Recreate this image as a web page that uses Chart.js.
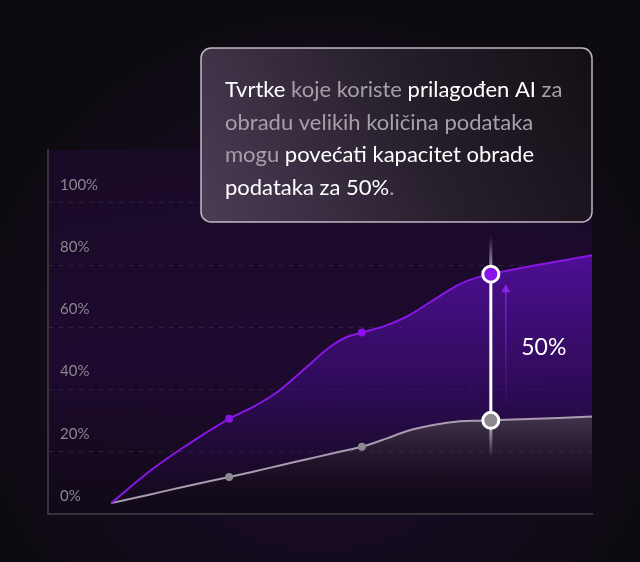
<!DOCTYPE html>
<html>
<head>
<meta charset="utf-8">
<script src="https://cdn.jsdelivr.net/npm/chart.js@4.4.1/dist/chart.umd.min.js"></script>
<style>
html, body { margin: 0; padding: 0; background: #0c0a0e; }
#wrap { width: 640px; height: 562px; }
</style>
</head>
<body>
<div id="wrap"><canvas id="growthChart"></canvas></div>
<script>
// positions along the x axis (0-100) and the two series in %
const xs = [11.6, 18.8, 24.8, 33.3, 37.7, 42.6, 47.6, 51.8, 54.9, 57.7, 62.3, 65.9, 70.8, 75.7, 79.4, 81.4, 100];
const customAI = [3.5, 13.9, 21.3, 30.6, 34.4, 39.8, 47.3, 53.7, 56.9, 58.3, 60.7, 63.4, 68.7, 73.9, 76.3, 77.1, 83.2];
const standard = [3.5, 6.3, 8.7, 11.9, 13.6, 15.6, 17.6, 19.3, 20.5, 21.6, 24.3, 26.6, 28.6, 29.8, 30.0, 30.1, 31.3];
const yTicks = [0, 20, 40, 60, 80, 100];
const smallMarks = [3, 9];
const markIdx = 15;
const gainLabel = '50%';
const noteLines = [
    [['Tvrtke', 1], [' koje koriste ', 0], ['prilagođen AI', 1], [' za', 0]],
    [['obradu velikih količina podataka', 0]],
    [['mogu', 0], [' povećati kapacitet obrade', 1]],
    [['podataka za 50%', 1], ['.', 0]]
];

const radii = (small, big) => xs.map((_, i) => i === markIdx ? big : (smallMarks.includes(i) ? small : 0));

const bgPlugin = {
    id: 'bg',
    beforeDraw(chart) {
        const {ctx, chartArea: a, width, height} = chart;
        ctx.save();
        ctx.fillStyle = '#0c0a0e';
        ctx.fillRect(0, 0, width, height);
        const glow = ctx.createRadialGradient(320, 360, 20, 320, 360, 380);
        glow.addColorStop(0, 'rgba(45,14,75,0.55)');
        glow.addColorStop(1, 'rgba(45,14,75,0)');
        ctx.fillStyle = glow;
        ctx.fillRect(0, 0, width, height);
        const g = ctx.createLinearGradient(0, a.top, 0, a.bottom);
        g.addColorStop(0, 'rgba(26,10,40,0.9)');
        g.addColorStop(0.6, 'rgba(30,10,48,0.95)');
        g.addColorStop(1, 'rgba(16,9,22,1)');
        ctx.fillStyle = g;
        ctx.fillRect(a.left, a.top, a.right - a.left, a.bottom - a.top);
        ctx.restore();
    }
};

const markerPlugin = {
    id: 'marker',
    beforeDatasetsDraw(chart) {
        const {ctx, scales: {x, y}} = chart;
        const px = x.getPixelForValue(xs[markIdx]);
        const top = y.getPixelForValue(customAI[markIdx]);
        const bot = y.getPixelForValue(standard[markIdx]);
        ctx.save();
        ctx.lineWidth = 3;
        let g = ctx.createLinearGradient(0, top - 38, 0, top);
        g.addColorStop(0, 'rgba(255,255,255,0)');
        g.addColorStop(1, 'rgba(255,255,255,0.7)');
        ctx.strokeStyle = g;
        ctx.beginPath(); ctx.moveTo(px, top - 38); ctx.lineTo(px, top); ctx.stroke();
        g = ctx.createLinearGradient(0, bot, 0, bot + 36);
        g.addColorStop(0, 'rgba(255,255,255,0.7)');
        g.addColorStop(1, 'rgba(255,255,255,0)');
        ctx.strokeStyle = g;
        ctx.beginPath(); ctx.moveTo(px, bot); ctx.lineTo(px, bot + 36); ctx.stroke();
        ctx.strokeStyle = '#ffffff';
        ctx.beginPath(); ctx.moveTo(px, top); ctx.lineTo(px, bot); ctx.stroke();

        // arrow
        const ax = px + 15, ay1 = bot - 17, ay2 = top + 10;
        g = ctx.createLinearGradient(0, ay1, 0, ay2);
        g.addColorStop(0, 'rgba(130,30,220,0.1)');
        g.addColorStop(1, 'rgba(140,35,235,0.95)');
        ctx.strokeStyle = g;
        ctx.lineWidth = 1.5;
        ctx.beginPath(); ctx.moveTo(ax, ay1); ctx.lineTo(ax, ay2 + 6); ctx.stroke();
        ctx.fillStyle = 'rgba(140,35,235,0.95)';
        ctx.beginPath(); ctx.moveTo(ax, ay2); ctx.lineTo(ax - 4.5, ay2 + 8); ctx.lineTo(ax + 4.5, ay2 + 8); ctx.closePath(); ctx.fill();

        ctx.fillStyle = '#ffffff';
        ctx.font = '23px Lato';
        ctx.textAlign = 'center';
        ctx.textBaseline = 'middle';
        ctx.fillText(gainLabel, px + 53, (top + bot) / 2);
        ctx.restore();
    },
    afterDraw(chart) {
        const {ctx} = chart;
        const bx = 201, by = 48, bw = 391, bh = 174;
        ctx.save();
        const g = ctx.createLinearGradient(bx, by + bh, bx + bw, by);
        g.addColorStop(0, 'rgba(80,64,90,0.93)');
        g.addColorStop(0.55, 'rgba(40,32,44,0.93)');
        g.addColorStop(1, 'rgba(20,15,22,0.93)');
        ctx.fillStyle = g;
        ctx.beginPath();
        ctx.roundRect(bx, by, bw, bh, 10);
        ctx.fill();
        ctx.lineWidth = 1.5;
        ctx.strokeStyle = 'rgba(220,212,222,0.85)';
        ctx.stroke();
        ctx.font = '22px Lato';
        ctx.textBaseline = 'middle';
        ctx.textAlign = 'left';
        noteLines.forEach((runs, i) => {
            let tx = 225;
            const ty = 90 + i * 32.5;
            runs.forEach(([t, bright]) => {
                ctx.fillStyle = bright ? '#ffffff' : '#a79fa9';
                ctx.fillText(t, tx, ty);
                tx += ctx.measureText(t).width;
            });
        });
        ctx.restore();
    }
};

new Chart(document.getElementById('growthChart'), {
    type: 'line',
    data: {
        datasets: [{
            label: 'Prilagođen AI',
            data: xs.map((x, i) => ({x: x, y: customAI[i]})),
            borderColor: '#8a16e6',
            borderWidth: 2,
            fill: 1,
            backgroundColor: (c) => {
                const a = c.chart.chartArea;
                if (!a) return 'rgba(80,15,150,0.4)';
                const g = c.chart.ctx.createLinearGradient(0, a.top + 100, 0, a.bottom);
                g.addColorStop(0, 'rgba(92,16,178,0.82)');
                g.addColorStop(0.55, 'rgba(62,12,125,0.5)');
                g.addColorStop(1, 'rgba(40,10,70,0.05)');
                return g;
            },
            pointRadius: radii(4, 8),
            pointBackgroundColor: '#8b12e8',
            pointBorderColor: '#ffffff',
            pointBorderWidth: xs.map((_, i) => i === markIdx ? 3 : 0),
            cubicInterpolationMode: 'monotone'
        }, {
            label: 'Standardno',
            data: xs.map((x, i) => ({x: x, y: standard[i]})),
            borderColor: '#a99cb0',
            borderWidth: 2,
            fill: 'origin',
            backgroundColor: (c) => {
                const a = c.chart.chartArea;
                if (!a) return 'rgba(120,110,128,0.3)';
                const g = c.chart.ctx.createLinearGradient(0, a.bottom - 100, 0, a.bottom - 15);
                g.addColorStop(0, 'rgba(120,110,128,0.45)');
                g.addColorStop(1, 'rgba(40,30,45,0)');
                return g;
            },
            pointRadius: radii(4, 8),
            pointBackgroundColor: '#8c8890',
            pointBorderColor: '#ffffff',
            pointBorderWidth: xs.map((_, i) => i === markIdx ? 3 : 0),
            cubicInterpolationMode: 'monotone'
        }]
    },
    options: {
        responsive: true,
        maintainAspectRatio: false,
        animation: false,
        events: [],
        layout: { padding: { left: 24, right: 48, top: 150, bottom: 40 } },
        plugins: {
            legend: { display: false },
            tooltip: { enabled: false },
            filler: { drawTime: 'beforeDatasetsDraw' }
        },
        scales: {
            x: {
                type: 'linear',
                min: 0,
                max: 100,
                ticks: { display: false },
                grid: { display: false },
                border: { display: true, color: '#38323d', width: 2 }
            },
            y: {
                min: 0,
                max: 117,
                afterBuildTicks: (s) => { s.ticks = yTicks.map(v => ({value: v})); },
                ticks: {
                    mirror: true,
                    padding: 12,
                    labelOffset: -18,
                    color: '#8d8592',
                    font: { family: 'Lato', size: 15 },
                    callback: (v) => v + '%'
                },
                grid: { color: 'rgba(255,255,255,0.1)', drawTicks: false },
                border: { display: true, color: '#38323d', width: 2, dash: [4, 6] }
            }
        }
    },
    plugins: [bgPlugin, markerPlugin]
});
</script>
</body>
</html>
